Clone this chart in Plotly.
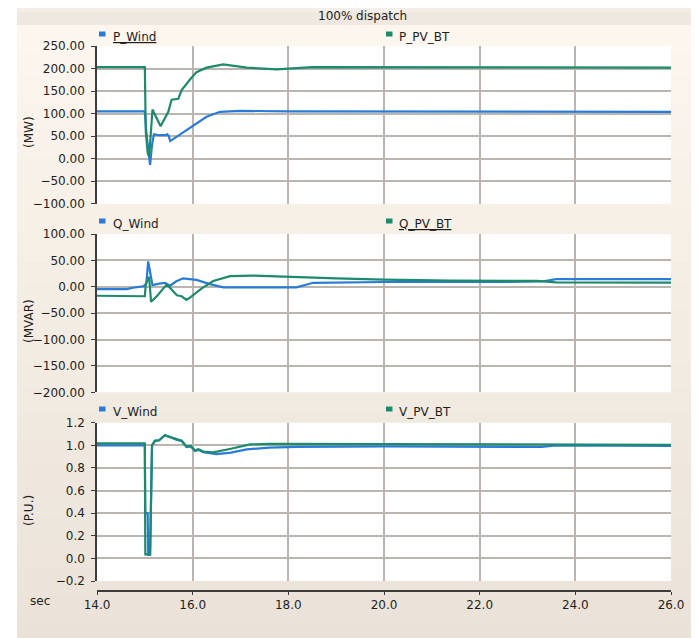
import plotly.graph_objects as go

# ---------------- data ----------------
series_names = ["P_Wind", "P_PV_BT", "Q_Wind", "Q_PV_BT", "V_Wind", "V_PV_BT"]
panel_units = ["(MW)", "(MVAR)", "(P.U.)"]
chart_title = "100% dispatch"
x_label = "sec"

t_p_wind = [14.0, 14.5, 15.0, 15.03, 15.08, 15.11, 15.15, 15.19, 15.3, 15.44, 15.47, 15.5, 15.53, 15.74,
            16.01, 16.29, 16.57, 16.99, 18.0, 20.0, 22.0, 24.0, 26.0]
p_wind = [105, 105, 105, 60, 10, -14, 30, 54, 52, 52, 54, 50, 39, 54,
          72, 93, 104, 106, 105, 105, 105, 105, 104]

t_p_pv = [14.0, 14.5, 15.0, 15.02, 15.06, 15.09, 15.13, 15.16, 15.2, 15.33, 15.49, 15.56, 15.7, 15.77,
          15.94, 16.08, 16.29, 16.64, 17.13, 17.76, 18.5, 20.0, 22.0, 24.0, 26.0]
p_pv = [203, 203, 203, 60, 12, 4, 80, 109, 100, 72, 104, 131, 133, 152,
        175, 192, 202, 209, 202, 198, 203, 203, 203, 203, 202]

t_q_wind = [14.0, 14.62, 14.8, 14.97, 15.03, 15.07, 15.09, 15.16, 15.3, 15.42, 15.53, 15.65, 15.8,
            16.08, 16.36, 16.64, 17.5, 18.17, 18.52, 20.0, 23.0, 23.3, 23.6, 26.0]
q_wind = [-4.5, -4.5, -1, 1, 5, 48, 38, 3, 6, 7.5, 2, 10, 16,
          13, 5, -1, -1, -1, 7.5, 9, 9.5, 10, 14.5, 14.5]

t_q_pv = [14.0, 14.9, 15.0, 15.02, 15.09, 15.13, 15.25, 15.46, 15.67, 15.77, 15.87, 15.95, 16.01,
          16.19, 16.43, 16.78, 17.27, 18.17, 19.0, 20.0, 21.4, 23.2, 23.6, 26.0]
q_pv = [-17, -17.5, -18, 5, 19, -28.5, -18, 4.5, -16, -18, -25, -20, -16,
        -3, 11, 20, 21, 18, 16, 13.5, 11.5, 11, 8.5, 8]

t_v_wind = [14.0, 15.0, 15.01, 15.06, 15.07, 15.11, 15.15, 15.21, 15.3, 15.42, 15.55, 15.67, 15.77,
            15.87, 15.96, 16.05, 16.12, 16.22, 16.5, 16.8, 17.13, 17.6, 18.17, 20.0, 23.3, 23.6, 26.0]
v_wind = [1.0, 1.0, 0.40, 0.40, 0.03, 0.03, 1.0, 1.04, 1.045, 1.09, 1.07, 1.047, 1.04,
          0.985, 0.99, 0.95, 0.96, 0.94, 0.923, 0.935, 0.964, 0.98, 0.987, 0.99, 0.985, 1.0, 0.995]

t_v_pv = [14.0, 15.0, 15.01, 15.11, 15.15, 15.21, 15.3, 15.42, 15.55, 15.67, 15.77, 15.87, 15.96,
          16.05, 16.12, 16.22, 16.43, 16.8, 17.2, 17.6, 20.0, 23.3, 26.0]
v_pv = [1.017, 1.017, 0.035, 0.035, 1.0, 1.04, 1.045, 1.09, 1.07, 1.05, 1.04, 0.99, 0.995,
        0.955, 0.965, 0.945, 0.938, 0.97, 1.008, 1.012, 1.01, 1.005, 1.005]

x_range = [14, 26]
y_ranges = [[-100, 250], [-200, 100], [-0.2, 1.2]]
y_dticks = [50, 50, 0.2]
y_formats = [".2f", ".2f", ".1f"]

# ---------------- styling ----------------
BLUE = "#2a7bd8"
GREEN = "#1d8a6c"
GRID = "#bab5af"
AXIS = "#3c3c3c"
FONT = "DejaVu Sans"
OFF = 8                      # page body margin offset
W, H = 699 - OFF, 638 - OFF
PLOT_L, PLOT_R, PLOT_T, PLOT_B = 97, 671, 46, 591   # page coords of paper area
L, R, T, B = PLOT_L - OFF, (W + OFF) - PLOT_R, PLOT_T - OFF, (H + OFF) - PLOT_B
PW, PH = PLOT_R - PLOT_L, PLOT_B - PLOT_T


def fx(px):
    return (px - PLOT_L) / PW


def fy(py):
    return (PLOT_B - py) / PH


panel_px = [(45.7, 203.7), (234.0, 392.3), (422.7, 581.0)]
domains = [[max(0, fy(b)), min(1, fy(t))] for t, b in panel_px]

fig = go.Figure()
data = [(t_p_wind, p_wind, t_p_pv, p_pv), (t_q_wind, q_wind, t_q_pv, q_pv), (t_v_wind, v_wind, t_v_pv, v_pv)]
for i, (tw, vw, tp, vp) in enumerate(data):
    sfx = "" if i == 0 else str(i + 1)
    fig.add_trace(go.Scatter(x=tw, y=vw, mode="lines", line=dict(color=BLUE, width=2.2),
                             xaxis="x" + sfx, yaxis="y" + sfx, name=series_names[2 * i], showlegend=False))
    fig.add_trace(go.Scatter(x=tp, y=vp, mode="lines", line=dict(color=GREEN, width=2.2),
                             xaxis="x" + sfx, yaxis="y" + sfx, name=series_names[2 * i + 1], showlegend=False))

layout = dict(width=W, height=H, margin=dict(l=L, r=R, t=T, b=B, autoexpand=False),
              paper_bgcolor="white", plot_bgcolor="white",
              font=dict(family=FONT, size=12, color="#1e1e1e"), showlegend=False)

for i in range(3):
    sfx = "" if i == 0 else str(i + 1)
    xa = dict(range=x_range, tick0=14, dtick=2, showgrid=True, gridcolor=GRID, gridwidth=2,
              zeroline=False, domain=[0, 1])
    if i < 2:
        xa.update(anchor="y" + sfx, showticklabels=False, ticks="", showline=False)
    else:
        xa.update(anchor="free", position=0, showline=True, linecolor=AXIS, linewidth=1.5,
                  ticks="outside", ticklen=3, tickcolor=AXIS, tickformat=".1f",
                  tickfont=dict(family=FONT, size=12, color="#1e1e1e"))
    ya = dict(domain=domains[i], anchor="x" + sfx, range=y_ranges[i], dtick=y_dticks[i],
              tick0=y_ranges[i][0], tickformat=y_formats[i], showgrid=True, gridcolor=GRID, gridwidth=2,
              zeroline=False, showline=True, linecolor=AXIS, linewidth=1.5, ticks="outside",
              ticklen=4, tickcolor=AXIS, ticklabelstandoff=4,
              tickfont=dict(family=FONT, size=12, color="#1e1e1e"))
    layout["xaxis" + sfx] = xa
    layout["yaxis" + sfx] = ya

# background gradient bands
shapes = []
top_px, bot_px = 25, 646
c0, c1 = (252, 246, 238), (234, 226, 216)
N = 24
for k in range(N):
    y0 = top_px + (bot_px - top_px) * k / N
    y1 = top_px + (bot_px - top_px) * (k + 1) / N
    f = (k + 0.5) / N
    col = "rgb(%d,%d,%d)" % tuple(round(c0[j] + (c1[j] - c0[j]) * f) for j in range(3))
    shapes.append(dict(type="rect", xref="paper", yref="paper", x0=fx(17), x1=fx(710),
                       y0=fy(y1 + 0.5), y1=fy(y0), fillcolor=col, line=dict(width=0), layer="below"))
# title band
shapes.append(dict(type="rect", xref="paper", yref="paper", x0=fx(17), x1=fx(710),
                   y0=fy(25), y1=fy(6), fillcolor="#eee8e0", line=dict(width=0), layer="below"))
shapes.append(dict(type="rect", xref="paper", yref="paper", x0=fx(17), x1=fx(710),
                   y0=fy(12), y1=fy(6), fillcolor="#f3eee8", line=dict(width=0), layer="below"))
# white plot areas
for i in range(3):
    sfx = "" if i == 0 else str(i + 1)
    shapes.append(dict(type="rect", xref="x" + sfx + " domain", yref="y" + sfx + " domain",
                       x0=0, x1=1, y0=0, y1=1, fillcolor="white", line=dict(width=0), layer="below"))

annotations = [dict(text=chart_title, x=fx(362), y=fy(16), xref="paper", yref="paper",
                    showarrow=False, xanchor="center", yanchor="middle", font=dict(size=12)),
               dict(text=x_label, x=fx(40), y=fy(601), xref="paper", yref="paper",
                    showarrow=False, xanchor="center", yanchor="middle", font=dict(size=12))]

legend_rows = [37, 224, 412]
unit_centers = [132, 321, 511]
underlined = {"P_Wind", "Q_PV_BT"}
for i in range(3):
    cy = legend_rows[i]
    for j, (mx, tx, col) in enumerate([(99, 111, BLUE), (386, 397, GREEN)]):
        name = series_names[2 * i + j]
        shapes.append(dict(type="rect", xref="paper", yref="paper", x0=fx(mx), x1=fx(mx + 6.5),
                           y0=fy(cy - 0.5), y1=fy(cy - 5.5), fillcolor=col, line=dict(width=0)))
        txt = "<u>%s</u>" % name if name in underlined else name
        annotations.append(dict(text=txt, x=fx(tx), y=fy(cy), xref="paper", yref="paper",
                                showarrow=False, xanchor="left", yanchor="middle", font=dict(size=12)))
    annotations.append(dict(text=panel_units[i], x=fx(29), y=fy(unit_centers[i]), xref="paper", yref="paper",
                            showarrow=False, textangle=-90, xanchor="center", yanchor="middle",
                            font=dict(size=12)))

layout["shapes"] = shapes
layout["annotations"] = annotations
fig.update_layout(**layout)
fig.write_html("out.html")
